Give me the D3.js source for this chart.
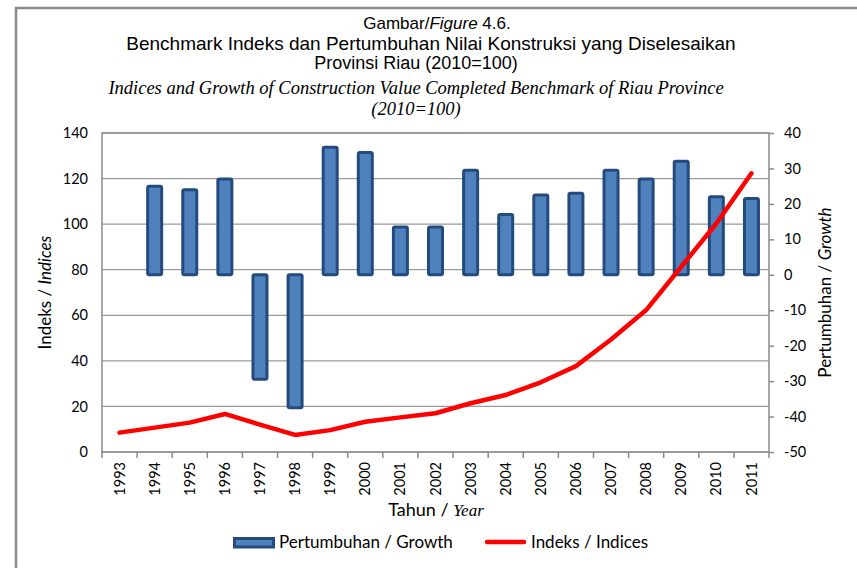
<!DOCTYPE html>
<html>
<head>
<meta charset="utf-8">
<script src="https://cdn.jsdelivr.net/npm/d3@7"></script>
<style>
  body { margin: 0; background: #fff; }
  svg { display: block; }
</style>
</head>
<body>
<div id="chart"></div>
<script>
// years on the x axis
const years = ['1993', '1994', '1995', '1996', '1997', '1998', '1999', '2000', '2001', '2002',
  '2003', '2004', '2005', '2006', '2007', '2008', '2009', '2010', '2011'];
// growth (%) - right axis, no value for 1993
const growth = [null, 25, 24, 27, -29.5, -37.5, 36, 34.5, 13.5, 13.5,
  29.5, 17, 22.5, 23, 29.5, 27, 32, 22, 21.5];
// index (2010=100) - left axis
const indeks = [8.5, 10.7, 12.9, 16.7, 12, 7.5, 9.6, 13.3, 15.2, 17,
  21.4, 25, 30.6, 37.7, 49.4, 62.3, 81.3, 100.3, 122.3];
const leftTicks = [0, 20, 40, 60, 80, 100, 120, 140];
const rightTicks = [-50, -40, -30, -20, -10, 0, 10, 20, 30, 40];

const width = 857, height = 568;
const margin = { top: 133, right: 88, bottom: 116, left: 102 };
const sansFont = 'Lato, "Open Sans", sans-serif';
const arial = '"Liberation Sans", Arial, sans-serif';
const times = '"Liberation Serif", "Times New Roman", serif';

const svg = d3.select('#chart')
  .append('svg')
  .attr('width', width)
  .attr('height', height);

// page frame lines (top and left)
svg.append('line')
  .attr('x1', 15).attr('x2', width).attr('y1', 8).attr('y2', 8)
  .attr('stroke', '#8a8a8a').attr('stroke-width', 2.5);
svg.append('line')
  .attr('x1', 16).attr('x2', 16).attr('y1', 7).attr('y2', height)
  .attr('stroke', '#8a8a8a').attr('stroke-width', 2.5);

const x = d3.scaleBand()
  .domain(years)
  .range([margin.left, width - margin.right]);

const yL = d3.scaleLinear()
  .domain([0, 140])
  .range([height - margin.bottom, margin.top]);

const yR = d3.scaleLinear()
  .domain([-50, 40])
  .range([height - margin.bottom, margin.top]);

// gridlines
svg.append('g')
  .selectAll('line')
  .data(leftTicks)
  .join('line')
    .attr('x1', margin.left)
    .attr('x2', width - margin.right)
    .attr('y1', d => yL(d))
    .attr('y2', d => yL(d))
    .attr('stroke', '#9a9a9a')
    .attr('stroke-width', 1.2);

// plot border
svg.append('rect')
  .attr('x', margin.left)
  .attr('y', margin.top)
  .attr('width', width - margin.left - margin.right)
  .attr('height', height - margin.top - margin.bottom)
  .attr('fill', 'none')
  .attr('stroke', '#8a8a8a')
  .attr('stroke-width', 1.5);

// growth bars
const barW = 14;
svg.append('g')
  .selectAll('rect')
  .data(years.map((yr, i) => ({ yr, v: growth[i] })).filter(d => d.v !== null))
  .join('rect')
    .attr('x', d => x(d.yr) + x.bandwidth() / 2 - barW / 2)
    .attr('y', d => yR(Math.max(0, d.v)))
    .attr('width', barW)
    .attr('height', d => Math.abs(yR(d.v) - yR(0)))
    .attr('rx', 1.5)
    .attr('fill', '#4F81BD')
    .attr('stroke', '#234B7E')
    .attr('stroke-width', 3);

// index line
const line = d3.line()
  .x((d, i) => x(years[i]) + x.bandwidth() / 2)
  .y(d => yL(d));

svg.append('path')
  .datum(indeks)
  .attr('d', line)
  .attr('fill', 'none')
  .attr('stroke', '#FF0000')
  .attr('stroke-width', 4.5)
  .attr('stroke-linecap', 'round')
  .attr('stroke-linejoin', 'round');

// axes
function yAxisLeft(g) {
  g.attr('transform', `translate(${margin.left},0)`)
    .call(d3.axisLeft(yL).tickValues(leftTicks).tickSize(0).tickPadding(14))
    .call(g => g.select('.domain').remove())
    .attr('font-size', '14.5px')
    .attr('font-family', sansFont)
    .selectAll('text').attr('fill', '#000');
}

function yAxisRight(g) {
  g.attr('transform', `translate(${width - margin.right},0)`)
    .call(d3.axisRight(yR).tickValues(rightTicks).tickFormat(d => String(d))
      .tickSize(5).tickPadding(10))
    .call(g => g.select('.domain').remove())
    .attr('font-size', '14.5px')
    .attr('font-family', sansFont);
  g.selectAll('line').attr('stroke', '#8a8a8a').attr('stroke-width', 1.5);
  g.selectAll('text').attr('fill', '#000');
}

function xAxis(g) {
  g.attr('transform', `translate(0,${height - margin.bottom})`)
    .call(d3.axisBottom(x).tickSize(0).tickPadding(0))
    .call(g => g.select('.domain').remove())
    .attr('font-size', '14.5px')
    .attr('font-family', sansFont);
  g.selectAll('text')
    .attr('fill', '#000')
    .attr('text-anchor', 'end')
    .attr('dy', '0.35em')
    .attr('transform', 'translate(0,10) rotate(-90)');
}

svg.append('g').call(yAxisLeft);
svg.append('g').call(yAxisRight);
svg.append('g').call(xAxis);

// x tick marks at category boundaries
svg.append('g')
  .selectAll('line')
  .data(years.concat(['end']))
  .join('line')
    .attr('x1', (d, i) => i < years.length ? x(d) : width - margin.right)
    .attr('x2', (d, i) => i < years.length ? x(d) : width - margin.right)
    .attr('y1', height - margin.bottom)
    .attr('y2', height - margin.bottom + 6)
    .attr('stroke', '#8a8a8a')
    .attr('stroke-width', 1.5);

// titles
const title = svg.append('g')
  .attr('text-anchor', 'middle')
  .attr('fill', '#000');

const t1 = title.append('text')
  .attr('x', 437).attr('y', 29)
  .attr('font-family', arial)
  .attr('font-size', '17px');
t1.append('tspan').text('Gambar/');
t1.append('tspan').attr('font-style', 'italic').text('Figure');
t1.append('tspan').text(' 4.6.');

title.append('text')
  .attr('x', 431).attr('y', 50)
  .attr('font-family', arial)
  .attr('font-size', '19px')
  .text('Benchmark Indeks dan Pertumbuhan Nilai Konstruksi yang Diselesaikan');

title.append('text')
  .attr('x', 416).attr('y', 69)
  .attr('font-family', arial)
  .attr('font-size', '18px')
  .text('Provinsi Riau (2010=100)');

title.append('text')
  .attr('x', 416).attr('y', 94)
  .attr('font-family', times)
  .attr('font-style', 'italic')
  .attr('font-size', '18.5px')
  .text('Indices and Growth of Construction Value Completed Benchmark of Riau Province');

title.append('text')
  .attr('x', 416).attr('y', 115)
  .attr('font-family', times)
  .attr('font-style', 'italic')
  .attr('font-size', '18.5px')
  .text('(2010=100)');

// axis titles
const yl = svg.append('text')
  .attr('transform', `translate(51,${(margin.top + height - margin.bottom) / 2}) rotate(-90)`)
  .attr('text-anchor', 'middle')
  .attr('font-family', sansFont)
  .attr('font-size', '17px');
yl.append('tspan').text('Indeks / ');
yl.append('tspan').attr('font-style', 'italic').text('Indices');

const yr = svg.append('text')
  .attr('transform', `translate(831,${(margin.top + height - margin.bottom) / 2}) rotate(-90)`)
  .attr('text-anchor', 'middle')
  .attr('font-family', sansFont)
  .attr('font-size', '17px');
yr.append('tspan').text('Pertumbuhan / ');
yr.append('tspan').attr('font-style', 'italic').text('Growth');

const xt = svg.append('text')
  .attr('x', 436).attr('y', 516)
  .attr('text-anchor', 'middle')
  .attr('font-size', '18px');
xt.append('tspan').attr('font-family', sansFont).text('Tahun / ');
xt.append('tspan')
  .attr('font-family', times)
  .attr('font-style', 'italic')
  .attr('font-size', '17px')
  .text('Year');

// legend
const legend = svg.append('g')
  .attr('font-family', sansFont)
  .attr('font-size', '17px');
legend.append('rect')
  .attr('x', 234.5).attr('y', 538.5)
  .attr('width', 39).attr('height', 8.5)
  .attr('fill', '#4F81BD')
  .attr('stroke', '#234B7E')
  .attr('stroke-width', 3);
legend.append('text')
  .attr('x', 279).attr('y', 548)
  .text('Pertumbuhan / Growth');
legend.append('line')
  .attr('x1', 487).attr('x2', 524)
  .attr('y1', 542).attr('y2', 542)
  .attr('stroke', '#FF0000')
  .attr('stroke-width', 4.5)
  .attr('stroke-linecap', 'round');
legend.append('text')
  .attr('x', 531).attr('y', 548)
  .text('Indeks / Indices');
</script>
</body>
</html>
